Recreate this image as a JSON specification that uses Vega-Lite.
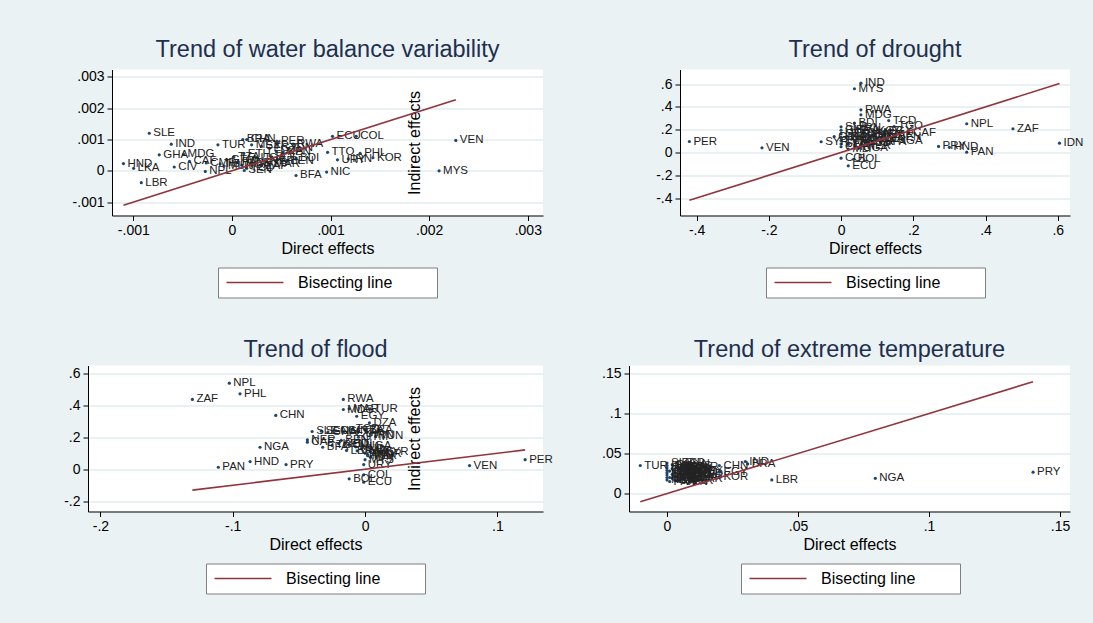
{
  "$schema": "https://vega.github.io/schema/vega-lite/v6.json",
  "background": "#eaf2f3",
  "padding": {"left": 13, "top": 37.5, "right": 10, "bottom": 30},
  "columns": 3,
  "spacing": {"column": 48, "row": 39},
  "align": "none",
  "bounds": "full",
  "resolve": {"scale": {"color": "independent", "x": "independent", "y": "independent"}, "legend": {"color": "independent"}},
  "datasets": {
    "p1": [
      {"c": "SLE", "x": -0.000838, "y": 0.00120}, {"c": "IND", "x": -0.000615, "y": 0.00085},
      {"c": "GHA", "x": -0.000737, "y": 0.00051}, {"c": "MDG", "x": -0.00049, "y": 0.00053},
      {"c": "TUR", "x": -0.000142, "y": 0.00083}, {"c": "HND", "x": -0.00110, "y": 0.00023},
      {"c": "LKA", "x": -0.000997, "y": 0.00008}, {"c": "CIV", "x": -0.000585, "y": 0.00012},
      {"c": "LBR", "x": -0.000919, "y": -0.00038}, {"c": "NPL", "x": -0.00027, "y": -0.00002},
      {"c": "CAF", "x": -0.00043, "y": 0.00030}, {"c": "CMR", "x": -0.00026, "y": 0.00025},
      {"c": "SEN", "x": 0.000125, "y": 0.00001}, {"c": "BDI", "x": 0.00065, "y": 0.00040},
      {"c": "BFA", "x": 0.00065, "y": -0.00015}, {"c": "NIC", "x": 0.00096, "y": -0.00004},
      {"c": "TTO", "x": 0.00097, "y": 0.00059}, {"c": "ECU", "x": 0.00102, "y": 0.00110},
      {"c": "COL", "x": 0.00126, "y": 0.00110}, {"c": "VEN", "x": 0.00227, "y": 0.00097},
      {"c": "PHL", "x": 0.00130, "y": 0.00056}, {"c": "URY", "x": 0.00107, "y": 0.00035},
      {"c": "IRN", "x": 0.00118, "y": 0.00038}, {"c": "KOR", "x": 0.00143, "y": 0.00042},
      {"c": "MYS", "x": 0.00210, "y": 0.0}, {"c": "MAR", "x": 0.00039, "y": 0.00022},
      {"c": "PER", "x": 0.000456, "y": 0.00094}, {"c": "RWA", "x": 0.00062, "y": 0.00085},
      {"c": "BRA", "x": 0.00011, "y": 0.00100}, {"c": "CHN", "x": 0.00015, "y": 0.00100},
      {"c": "MEX", "x": 0.00020, "y": 0.00083}, {"c": "SYR", "x": 0.00030, "y": 0.00078},
      {"c": "EGY", "x": 0.00038, "y": 0.00072}, {"c": "DZA", "x": 0.00045, "y": 0.00062},
      {"c": "KEN", "x": 0.00052, "y": 0.00060}, {"c": "ETH", "x": 0.00012, "y": 0.00055},
      {"c": "TZA", "x": 0.00002, "y": 0.00045}, {"c": "UGA", "x": 0.00025, "y": 0.00042},
      {"c": "BOL", "x": 0.00040, "y": 0.00045}, {"c": "PAN", "x": 0.00006, "y": 0.00028},
      {"c": "PRY", "x": 0.00020, "y": 0.00025}, {"c": "GTM", "x": -0.00005, "y": 0.00035},
      {"c": "ZAF", "x": 0.00030, "y": 0.00016}, {"c": "NGA", "x": 0.00010, "y": 0.00018},
      {"c": "MLI", "x": -0.00008, "y": 0.00015}, {"c": "NER", "x": 0.00035, "y": 0.00030},
      {"c": "TCD", "x": 0.00015, "y": 0.00008}, {"c": "TGO", "x": -0.00012, "y": 0.00022},
      {"c": "BEN", "x": 0.00055, "y": 0.00030}, {"c": "IDN", "x": 0.00058, "y": 0.00072}
    ],
    "l1": [{"x": -0.00110, "y": -0.00110}, {"x": 0.00227, "y": 0.00227}],
    "p2": [
      {"c": "PER", "x": -0.42, "y": 0.096}, {"c": "VEN", "x": -0.219, "y": 0.041},
      {"c": "SYR", "x": -0.055, "y": 0.094}, {"c": "IDN", "x": 0.605, "y": 0.082},
      {"c": "IND", "x": 0.055, "y": 0.608}, {"c": "MYS", "x": 0.037, "y": 0.559},
      {"c": "RWA", "x": 0.055, "y": 0.374}, {"c": "MDG", "x": 0.055, "y": 0.33},
      {"c": "TCD", "x": 0.132, "y": 0.28}, {"c": "NPL", "x": 0.348, "y": 0.252},
      {"c": "ZAF", "x": 0.476, "y": 0.208}, {"c": "BDI", "x": 0.037, "y": 0.257},
      {"c": "NGA", "x": 0.146, "y": 0.103}, {"c": "LBR", "x": 0.074, "y": 0.088},
      {"c": "CAF", "x": 0.188, "y": 0.17}, {"c": "COL", "x": 0.0, "y": -0.05},
      {"c": "BOL", "x": 0.035, "y": -0.06}, {"c": "ECU", "x": 0.02, "y": -0.117},
      {"c": "PRY", "x": 0.27, "y": 0.053}, {"c": "HND", "x": 0.30, "y": 0.045},
      {"c": "PAN", "x": 0.348, "y": 0.003}, {"c": "SLE", "x": 0.0, "y": 0.225},
      {"c": "GHA", "x": 0.0, "y": 0.195}, {"c": "CIV", "x": 0.0, "y": 0.165},
      {"c": "LKA", "x": 0.0, "y": 0.135}, {"c": "TUR", "x": 0.0, "y": 0.105},
      {"c": "SEN", "x": 0.0, "y": 0.075}, {"c": "CMR", "x": 0.0, "y": 0.05},
      {"c": "BRA", "x": 0.03, "y": 0.20}, {"c": "CHN", "x": 0.06, "y": 0.175},
      {"c": "MEX", "x": 0.09, "y": 0.16}, {"c": "EGY", "x": 0.12, "y": 0.185},
      {"c": "TGO", "x": 0.147, "y": 0.228}, {"c": "BEN", "x": 0.146, "y": 0.14},
      {"c": "DZA", "x": 0.10, "y": 0.12}, {"c": "KEN", "x": 0.04, "y": 0.10},
      {"c": "ETH", "x": 0.08, "y": 0.13}, {"c": "TZA", "x": 0.02, "y": 0.07},
      {"c": "UGA", "x": 0.05, "y": 0.04}, {"c": "BFA", "x": 0.11, "y": 0.09},
      {"c": "MLI", "x": 0.02, "y": 0.03}, {"c": "NIC", "x": 0.03, "y": 0.12},
      {"c": "PHL", "x": 0.07, "y": 0.15}, {"c": "MAR", "x": 0.12, "y": 0.15},
      {"c": "NER", "x": 0.06, "y": 0.06}, {"c": "GTM", "x": 0.015, "y": 0.14},
      {"c": "KOR", "x": 0.09, "y": 0.19}, {"c": "IRN", "x": 0.045, "y": 0.215},
      {"c": "URY", "x": 0.025, "y": 0.165}, {"c": "TTO", "x": 0.07, "y": 0.10},
      {"c": "GIN", "x": -0.019, "y": 0.14}
    ],
    "l2": [{"x": -0.42, "y": -0.42}, {"x": 0.605, "y": 0.605}],
    "p3": [
      {"c": "NPL", "x": -0.1026, "y": 0.5375}, {"c": "PHL", "x": -0.0945, "y": 0.471},
      {"c": "ZAF", "x": -0.1305, "y": 0.436}, {"c": "CHN", "x": -0.0675, "y": 0.336},
      {"c": "NGA", "x": -0.0794, "y": 0.1375}, {"c": "HND", "x": -0.0869, "y": 0.048},
      {"c": "PAN", "x": -0.1109, "y": 0.0125}, {"c": "PRY", "x": -0.0597, "y": 0.029},
      {"c": "RWA", "x": -0.0164, "y": 0.436}, {"c": "MDG", "x": -0.0164, "y": 0.373},
      {"c": "MAR", "x": -0.012, "y": 0.378}, {"c": "TUR", "x": 0.0038, "y": 0.377},
      {"c": "EGY", "x": -0.0063, "y": 0.331}, {"c": "DZA", "x": 0.0033, "y": 0.29},
      {"c": "SLE", "x": -0.040, "y": 0.236}, {"c": "NER", "x": -0.0436, "y": 0.184},
      {"c": "CAF", "x": -0.0436, "y": 0.169}, {"c": "BFA", "x": -0.032, "y": 0.1375},
      {"c": "LBR", "x": -0.014, "y": 0.117}, {"c": "BOL", "x": -0.012, "y": -0.06},
      {"c": "COL", "x": -0.001, "y": -0.035}, {"c": "ECU", "x": -0.001, "y": -0.081},
      {"c": "URY", "x": -0.001, "y": 0.029}, {"c": "SYR", "x": 0.012, "y": 0.106},
      {"c": "VEN", "x": 0.079, "y": 0.023}, {"c": "PER", "x": 0.121, "y": 0.06},
      {"c": "SEN", "x": -0.033, "y": 0.238}, {"c": "GHA", "x": -0.028, "y": 0.232},
      {"c": "CIV", "x": -0.022, "y": 0.240}, {"c": "GIN", "x": -0.016, "y": 0.236},
      {"c": "ETH", "x": -0.010, "y": 0.228}, {"c": "TZA", "x": -0.005, "y": 0.238},
      {"c": "BRA", "x": 0.0, "y": 0.245}, {"c": "IRN", "x": 0.004, "y": 0.212},
      {"c": "TUN", "x": 0.008, "y": 0.205}, {"c": "KEN", "x": -0.020, "y": 0.160},
      {"c": "BDI", "x": -0.012, "y": 0.155}, {"c": "MLI", "x": -0.007, "y": 0.140},
      {"c": "IND", "x": -0.003, "y": 0.128}, {"c": "CMR", "x": -0.006, "y": 0.115},
      {"c": "UGA", "x": -0.002, "y": 0.148}, {"c": "NIC", "x": 0.004, "y": 0.110},
      {"c": "TTO", "x": 0.002, "y": 0.092}, {"c": "KOR", "x": 0.006, "y": 0.098},
      {"c": "LKA", "x": 0.0, "y": 0.100}, {"c": "MEX", "x": 0.002, "y": 0.085},
      {"c": "IDN", "x": 0.004, "y": 0.075}, {"c": "MYS", "x": 0.0, "y": 0.060},
      {"c": "GTM", "x": -0.005, "y": 0.200}, {"c": "TCD", "x": -0.010, "y": 0.250},
      {"c": "TGO", "x": -0.025, "y": 0.150}, {"c": "BEN", "x": -0.018, "y": 0.180}
    ],
    "l3": [{"x": -0.1305, "y": -0.1305}, {"x": 0.121, "y": 0.121}],
    "p4": [
      {"c": "TUR", "x": -0.0102, "y": 0.035}, {"c": "MEX", "x": 0.0104, "y": 0.028},
      {"c": "HND", "x": 0.0104, "y": 0.0246}, {"c": "CHN", "x": 0.020, "y": 0.035},
      {"c": "EGY", "x": 0.020, "y": 0.0267}, {"c": "KOR", "x": 0.020, "y": 0.021},
      {"c": "IND", "x": 0.0299, "y": 0.040}, {"c": "BRA", "x": 0.0308, "y": 0.037},
      {"c": "LBR", "x": 0.040, "y": 0.017}, {"c": "NGA", "x": 0.0795, "y": 0.019},
      {"c": "PRY", "x": 0.1397, "y": 0.0267},
      {"c": "SLE", "x": 0.0, "y": 0.038}, {"c": "IDN", "x": 0.0, "y": 0.035},
      {"c": "GHA", "x": 0.0, "y": 0.032}, {"c": "CIV", "x": 0.0, "y": 0.029},
      {"c": "LKA", "x": 0.0, "y": 0.026}, {"c": "SEN", "x": 0.0, "y": 0.023},
      {"c": "CMR", "x": 0.0, "y": 0.020}, {"c": "NPL", "x": 0.0, "y": 0.017},
      {"c": "PHL", "x": 0.002, "y": 0.036}, {"c": "MDG", "x": 0.002, "y": 0.031},
      {"c": "RWA", "x": 0.003, "y": 0.027}, {"c": "ZAF", "x": 0.003, "y": 0.022},
      {"c": "TZA", "x": 0.004, "y": 0.018}, {"c": "UGA", "x": 0.004, "y": 0.033},
      {"c": "BDI", "x": 0.005, "y": 0.025}, {"c": "ETH", "x": 0.006, "y": 0.020},
      {"c": "KEN", "x": 0.006, "y": 0.030}, {"c": "NER", "x": 0.007, "y": 0.016},
      {"c": "BFA", "x": 0.007, "y": 0.023}, {"c": "MLI", "x": 0.008, "y": 0.019},
      {"c": "TCD", "x": 0.008, "y": 0.028}, {"c": "DZA", "x": 0.009, "y": 0.021},
      {"c": "SYR", "x": 0.009, "y": 0.033}, {"c": "MAR", "x": 0.010, "y": 0.018},
      {"c": "PAN", "x": 0.001, "y": 0.015}, {"c": "BOL", "x": 0.001, "y": 0.020},
      {"c": "ECU", "x": 0.002, "y": 0.024}, {"c": "COL", "x": 0.003, "y": 0.030},
      {"c": "PER", "x": 0.004, "y": 0.038}, {"c": "VEN", "x": 0.005, "y": 0.015},
      {"c": "MYS", "x": 0.006, "y": 0.035}, {"c": "URY", "x": 0.007, "y": 0.026},
      {"c": "IRN", "x": 0.008, "y": 0.031}, {"c": "TTO", "x": 0.009, "y": 0.027},
      {"c": "NIC", "x": 0.001, "y": 0.028}, {"c": "GTM", "x": 0.002, "y": 0.019},
      {"c": "CAF", "x": 0.003, "y": 0.016}, {"c": "BEN", "x": 0.005, "y": 0.032},
      {"c": "TGO", "x": 0.006, "y": 0.024}, {"c": "GIN", "x": 0.007, "y": 0.037}
    ],
    "l4": [{"x": -0.0102, "y": -0.0102}, {"x": 0.1397, "y": 0.1397}]
  },
  "concat": [
    {"width": 1, "height": 1, "data": {"values": []}, "mark": "point", "view": {"fill": null, "stroke": null}},
    {
      "width": 431, "height": 146,
      "title": {"text": "Trend of water balance variability", "offset": 8.5},
      "encoding": {
        "x": {"field": "x", "type": "quantitative", "title": "Direct effects",
              "scale": {"domain": [-0.001216, 0.003154], "zero": false, "nice": false},
              "axis": {"values": [-0.001, 0, 0.001, 0.002, 0.003]}},
        "y": {"field": "y", "type": "quantitative", "title": "Indirect effects",
              "scale": {"domain": [-0.001428, 0.003236], "zero": false, "nice": false},
              "axis": {"values": [-0.001, 0, 0.001, 0.002, 0.003], "minExtent": 50, "titleX": 302, "titleY": 73, "titleBaseline": "middle"}}
      },
      "layer": [
        {"data": {"name": "p1"}, "mark": {"type": "point", "filled": true, "size": 10, "color": "#1a476f", "opacity": 1}},
        {"data": {"name": "p1"}, "mark": {"type": "text", "align": "left", "baseline": "middle", "dx": 4, "fontSize": 11.5, "color": "#222222"}, "encoding": {"text": {"field": "c"}}},
        {"data": {"name": "l1"}, "mark": {"type": "line", "strokeWidth": 1.6},
         "encoding": {"color": {"datum": "Bisecting line", "scale": {"range": ["#90353b"]},
           "legend": {"orient": "none", "legendX": 106, "legendY": 198}}}}
      ]
    },
    {
      "width": 390, "height": 146,
      "title": {"text": "Trend of drought", "offset": 8.5},
      "encoding": {
        "x": {"field": "x", "type": "quantitative", "title": "Direct effects",
              "scale": {"domain": [-0.446, 0.634], "zero": false, "nice": false},
              "axis": {"values": [-0.4, -0.2, 0, 0.2, 0.4, 0.6]}},
        "y": {"field": "y", "type": "quantitative", "title": null,
              "scale": {"domain": [-0.553, 0.728], "zero": false, "nice": false},
              "axis": {"values": [-0.4, -0.2, 0, 0.2, 0.4, 0.6], "minExtent": 55}}
      },
      "layer": [
        {"data": {"name": "p2"}, "mark": {"type": "point", "filled": true, "size": 10, "color": "#1a476f", "opacity": 1}},
        {"data": {"name": "p2"}, "mark": {"type": "text", "align": "left", "baseline": "middle", "dx": 4, "fontSize": 11.5, "color": "#222222"}, "encoding": {"text": {"field": "c"}}},
        {"data": {"name": "l2"}, "mark": {"type": "line", "strokeWidth": 1.6},
         "encoding": {"color": {"datum": "Bisecting line", "scale": {"range": ["#90353b"]},
           "legend": {"orient": "none", "legendX": 86, "legendY": 198}}}}
      ]
    },
    {"width": 1, "height": 1, "data": {"values": []}, "mark": "point", "view": {"fill": null, "stroke": null}},
    {
      "width": 455, "height": 146,
      "title": {"text": "Trend of flood", "offset": 4},
      "encoding": {
        "x": {"field": "x", "type": "quantitative", "title": "Direct effects",
              "scale": {"domain": [-0.2094, 0.1345], "zero": false, "nice": false},
              "axis": {"values": [-0.2, -0.1, 0, 0.1]}},
        "y": {"field": "y", "type": "quantitative", "title": "Indirect effects",
              "scale": {"domain": [-0.264, 0.648], "zero": false, "nice": false},
              "axis": {"values": [-0.2, 0, 0.2, 0.4, 0.6], "minExtent": 26, "titleX": 326, "titleY": 73, "titleBaseline": "middle"}}
      },
      "layer": [
        {"data": {"name": "p3"}, "mark": {"type": "point", "filled": true, "size": 10, "color": "#1a476f", "opacity": 1}},
        {"data": {"name": "p3"}, "mark": {"type": "text", "align": "left", "baseline": "middle", "dx": 4, "fontSize": 11.5, "color": "#222222"}, "encoding": {"text": {"field": "c"}}},
        {"data": {"name": "l3"}, "mark": {"type": "line", "strokeWidth": 1.6},
         "encoding": {"color": {"datum": "Bisecting line", "scale": {"range": ["#90353b"]},
           "legend": {"orient": "none", "legendX": 118, "legendY": 198}}}}
      ]
    },
    {
      "width": 441, "height": 146,
      "title": {"text": "Trend of extreme temperature", "offset": 4},
      "encoding": {
        "x": {"field": "x", "type": "quantitative", "title": "Direct effects",
              "scale": {"domain": [-0.0145, 0.1538], "zero": false, "nice": false},
              "axis": {"values": [0, 0.05, 0.1, 0.15]}},
        "y": {"field": "y", "type": "quantitative", "title": null,
              "scale": {"domain": [-0.0225, 0.16], "zero": false, "nice": false},
              "axis": {"values": [0, 0.05, 0.1, 0.15], "minExtent": 28}}
      },
      "layer": [
        {"data": {"name": "p4"}, "mark": {"type": "point", "filled": true, "size": 10, "color": "#1a476f", "opacity": 1}},
        {"data": {"name": "p4"}, "mark": {"type": "text", "align": "left", "baseline": "middle", "dx": 4, "fontSize": 11.5, "color": "#222222"}, "encoding": {"text": {"field": "c"}}},
        {"data": {"name": "l4"}, "mark": {"type": "line", "strokeWidth": 1.6},
         "encoding": {"color": {"datum": "Bisecting line", "scale": {"range": ["#90353b"]},
           "legend": {"orient": "none", "legendX": 112, "legendY": 198}}}}
      ]
    }
  ],
  "config": {
    "font": "Liberation Sans",
    "view": {"fill": "white", "stroke": null},
    "axis": {
      "domainColor": "#000000", "tickColor": "#000000", "labelColor": "#000000", "titleColor": "#000000",
      "labelFontSize": 14, "titleFontSize": 16, "titleFontWeight": "normal", "tickSize": 5,
      "labelPadding": 3, "titlePadding": 3, "domainWidth": 1, "tickWidth": 1,
      "labelFlush": false, "labelOverlap": false,
      "labelExpr": "(datum.value < 0 ? '-' : '') + replace(toString(abs(datum.value)), '0.', '.')"
    },
    "axisX": {"grid": false},
    "axisY": {"grid": true, "gridColor": "#e3ecef", "gridWidth": 1.5},
    "title": {"fontSize": 23.5, "fontWeight": "normal", "color": "#1e2f4f", "anchor": "middle", "frame": "group", "baseline": "alphabetic"},
    "legend": {
      "title": null,
      "padding": 7, "strokeColor": "#7f7f7f", "fillColor": "white", "cornerRadius": 0,
      "symbolType": "M-4.75,0H4.75M28.6,0", "symbolSize": 144, "symbolStrokeWidth": 1.6,
      "symbolOffset": 22, "labelOffset": 35, "labelFontSize": 16, "labelColor": "#000000"
    }
  }
}
